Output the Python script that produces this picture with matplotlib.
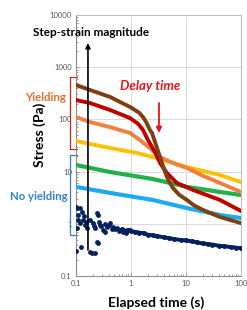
import matplotlib
matplotlib.use("Agg")
import matplotlib.pyplot as plt
import matplotlib.transforms as mtransforms

plt.rcParams['font.family'] = ['Lato', 'DejaVu Sans']

# curves (time in s, stress in Pa)
t_brown = [0.1, 0.18, 0.42, 0.96, 1.4, 1.65, 1.9, 2.2, 2.41, 2.97, 3.66, 4.5, 5.1, 5.8,
           7.5, 10.4, 14, 20.4, 41.5, 100]
s_brown = [456, 366, 268, 173, 135, 111, 88, 63, 55, 28.3, 14.6, 7.9, 6.05, 4.85,
           3.6, 2.86, 2.25, 1.84, 1.35, 1.03]

t_red = [0.1, 0.18, 0.42, 0.96, 1.35, 1.65, 2.04, 2.73, 3.37, 4.5, 6.85, 13.4, 41.5, 100]
s_red = [235, 206, 151, 106, 82, 63, 40, 23.7, 14.6, 9.4, 6.05, 4.45, 2.86, 1.76]

t_orange = [0.1, 0.18, 0.42, 0.96, 1.46, 2.2, 3.37, 5.8, 10.4, 20.4, 41.5, 100]
s_orange = [111, 89, 71, 55, 40, 28.3, 19, 14.6, 11.7, 8.3, 6.05, 4.07]

t_yellow = [0.1, 0.42, 1.29, 2.5, 5.1, 10.4, 41.5, 100]
s_yellow = [38.5, 28.3, 22.7, 19, 15.3, 12.2, 8.6, 6.3]

t_green = [0.1, 0.42, 2.5, 10.4, 41.5, 100]
s_green = [13.4, 9.8, 7.2, 5.1, 4.07, 3.56]

t_blue = [0.1, 0.42, 2.5, 10.4, 41.5, 100]
s_blue = [5.1, 3.9, 2.86, 2.0, 1.47, 1.29]

# no-yielding sample: noisy points at short times
t_navy_pts = [0.1, 0.104, 0.109, 0.118, 0.129, 0.134, 0.118, 0.146, 0.159, 0.104,
              0.1, 0.123, 0.18, 0.22, 0.24, 0.25, 0.24, 0.25, 0.18, 0.204, 0.22,
              0.27, 0.31, 0.37, 0.415, 0.47, 0.56, 0.63, 0.71, 0.96, 0.195, 0.109,
              0.29, 0.34, 0.45, 0.52, 0.6, 0.8, 0.33, 0.4, 0.14, 0.15, 0.21, 0.26]
s_navy_pts = [2.1, 2.03, 1.47, 2.03, 1.69, 1.2, 1.03, 0.95, 0.84, 0.84,
              0.3, 0.36, 0.29, 0.28, 0.45, 0.43, 1.62, 1.47, 1.2, 1.03, 0.84,
              0.95, 0.76, 0.87, 1.03, 0.87, 0.84, 0.76, 0.70, 0.76, 0.28, 1.2,
              0.9, 1.0, 0.78, 0.8, 0.72, 0.68, 0.7, 0.95, 1.4, 1.1, 0.9, 1.1]
# dense tail
t_navy = [0.7, 0.8, 0.9, 1.0, 1.2, 1.4, 1.7, 2.0, 2.5, 3, 4, 5, 6, 8, 10, 13, 16,
          20, 25, 30, 40, 50, 65, 80, 100]
s_navy = [0.78, 0.74, 0.76, 0.72, 0.70, 0.68, 0.66, 0.62, 0.60, 0.58, 0.55, 0.53,
          0.51, 0.49, 0.48, 0.46, 0.44, 0.42, 0.41, 0.40, 0.38, 0.37, 0.36, 0.35, 0.34]

fig = plt.figure(figsize=(2.47, 3.10), dpi=100)
ax = fig.add_axes([76/247, 1-276/310, 165/247, 261/310])
ax.set_xscale('log')
ax.set_yscale('log')
ax.set_xlim(0.1, 100)
ax.set_ylim(0.1, 10000)

ax.grid(True, which='major', color='#D9D9D9', lw=0.7)
ax.set_axisbelow(True)
for side in ['top', 'right']:
    ax.spines[side].set_color('#BFBFBF')
for side in ['left', 'bottom']:
    ax.spines[side].set_color('#8C8C8C')
ax.tick_params(which='both', direction='in', colors='#8C8C8C', labelcolor='#595959',
               labelsize=5.5, length=2, width=0.6, pad=3)
ax.tick_params(which='minor', length=1.5)
ax.set_xticks([0.1, 1, 10, 100])
ax.set_xticklabels(['0.1', '1', '10', '100'])
ax.set_yticks([0.1, 1, 10, 100, 1000, 10000])
ax.set_yticklabels(['0.1', '1', '10', '100', '1000', '10000'])

ax.plot(t_navy, s_navy, color='#002060', lw=2.8, marker='o', ms=2.5, zorder=3)
ax.scatter(t_navy_pts, s_navy_pts, color='#002060', s=6, zorder=3)
ax.plot(t_blue, s_blue, color='#1EAAF1', lw=3.0, zorder=3)
ax.plot(t_green, s_green, color='#22B04B', lw=3.0, zorder=3)
ax.plot(t_yellow, s_yellow, color='#FFC000', lw=2.8, zorder=4)
ax.plot(t_orange, s_orange, color='#F08040', lw=2.8, zorder=4)
ax.plot(t_red, s_red, color='#C00000', lw=2.8, zorder=5)
ax.plot(t_brown, s_brown, color='#7F3F10', lw=2.8, zorder=6)

# step-strain arrow
ax.annotate('', xy=(0.165, 2900), xytext=(0.165, 0.315),
            arrowprops=dict(arrowstyle='-|>', color='black', lw=1.2,
                            mutation_scale=7, shrinkA=0, shrinkB=0), zorder=8)
# delay time arrow
ax.annotate('', xy=(3.23, 55), xytext=(3.23, 206),
            arrowprops=dict(arrowstyle='-|>', color='#E8141B', lw=1.3,
                            mutation_scale=8, shrinkA=0, shrinkB=0), zorder=8)

# brackets outside axes
bt = mtransforms.blended_transform_factory(ax.transAxes, ax.transData)
ax.plot([0.006, -0.036, -0.036, 0.006], [650, 650, 27, 27], color='#D02020',
        lw=0.9, transform=bt, clip_on=False)
ax.plot([0.006, -0.036, -0.036, 0.006], [20.8, 20.8, 0.61, 0.61], color='#3C78C8',
        lw=0.9, transform=bt, clip_on=False)

fig.text(91/247, 1-33/310, 'Step-strain magnitude', ha='center', va='center',
         fontsize=8.5, fontweight='bold')
fig.text(150/247, 1-86/310, 'Delay time', ha='center', va='center',
         fontsize=9.5, fontweight='bold', style='italic', color='#E8141B')
fig.text(46/247, 1-97/310, 'Yielding', ha='center', va='center',
         fontsize=8.2, fontweight='bold', color='#E07030')
fig.text(39/247, 1-197/310, 'No yielding', ha='center', va='center',
         fontsize=8.2, fontweight='bold', color='#2E80D8')
fig.text(40/247, 1-135/310, 'Stress (Pa)', ha='center', va='center', rotation=90,
         fontsize=10, fontweight='bold')
fig.text(156/247, 1-303/310, 'Elapsed time (s)', ha='center', va='center',
         fontsize=10, fontweight='bold')

fig.savefig('out.png', dpi=100)
